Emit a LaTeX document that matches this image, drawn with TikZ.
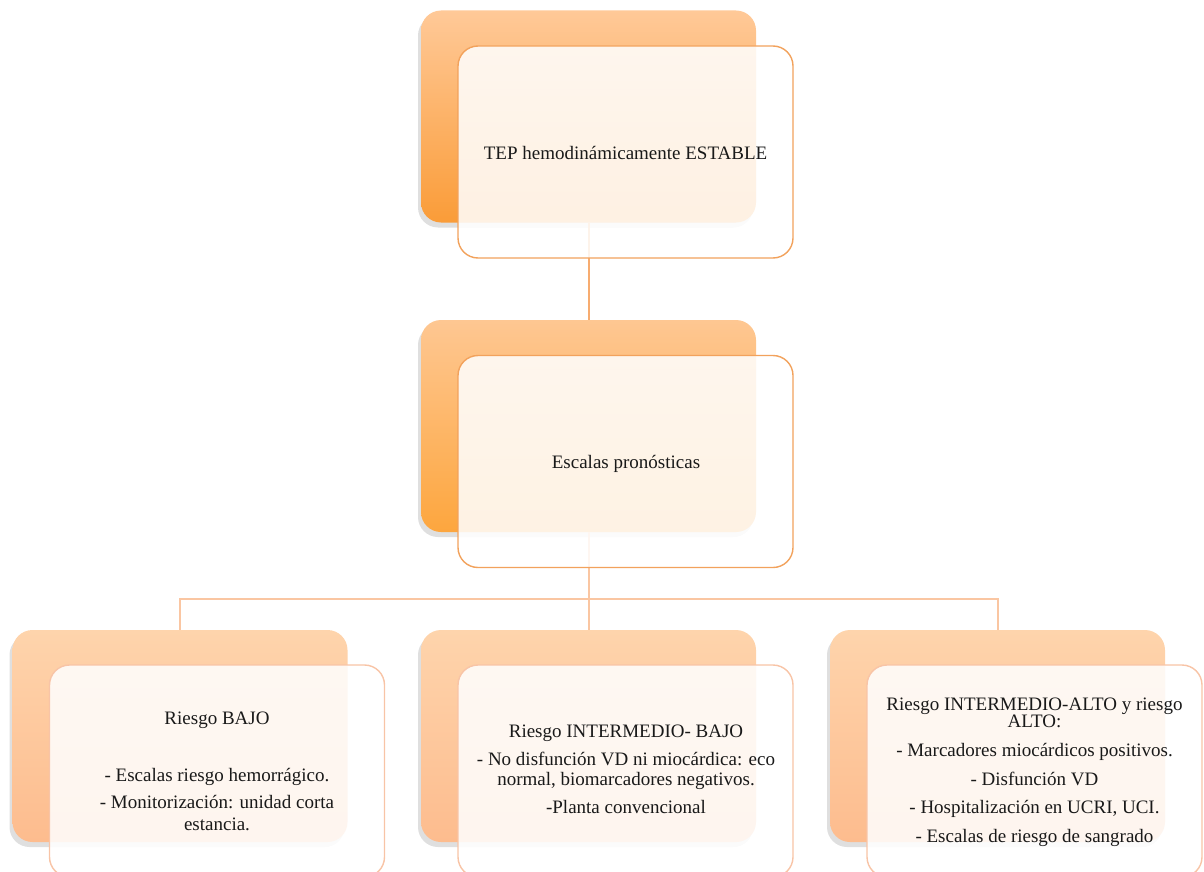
\documentclass[tikz,border=0pt]{standalone}
\usepackage{fontspec}
\setmainfont{Liberation Serif}
\usetikzlibrary{shadows}
\definecolor{connA}{RGB}{247,172,112}
\definecolor{connB}{RGB}{250,198,162}
\definecolor{frameA}{RGB}{242,162,92}
\definecolor{frameB}{RGB}{248,196,166}
\definecolor{topA}{RGB}{255,201,152}
\definecolor{botA}{RGB}{250,156,56}
\definecolor{topB}{RGB}{254,199,146}
\definecolor{botB}{RGB}{253,166,62}
\definecolor{topC}{RGB}{254,212,172}
\definecolor{botC}{RGB}{253,188,142}
\definecolor{txt}{RGB}{25,25,25}
\begin{document}
\begin{tikzpicture}[x=1pt,y=-1pt,
  backbox/.style={rounded corners=20pt, minimum width=335pt, minimum height=212pt,
    inner sep=0pt, outer sep=0pt,
    drop shadow={shadow xshift=-3pt, shadow yshift=-5pt, opacity=0.18, fill=black!70}},
  frontbox/.style={rounded corners=20pt, minimum width=335pt, minimum height=212pt,
    inner sep=0pt, outer sep=0pt, fill=white, fill opacity=0.86, draw opacity=1, line width=1.4pt},
  label/.style={align=center, anchor=base, inner sep=0pt, text=txt,
    font=\fontsize{19}{17}\selectfont},
  connA/.style={draw=connA, line width=2pt},
  connB/.style={draw=connB, line width=2pt}]
\useasboundingbox (0,0) rectangle (1204,872);
\clip (0,0) rectangle (1204,872);

% back boxes
\node[backbox, top color=topA, bottom color=botA] (b1) at (588.5,116.5) {};
\node[backbox, top color=topB, bottom color=botB] (b2) at (588.5,426) {};
\node[backbox, top color=topC, bottom color=botC] (b3) at (180,736) {};
\node[backbox, top color=topC, bottom color=botC] (b4) at (588.5,736) {};
\node[backbox, top color=topC, bottom color=botC] (b5) at (997.5,736) {};

% connectors
\draw[connA] (b1.south) -- (b2.north);
\draw[connB] (b2.south) -- ++(0,67) -| (b3.north);
\draw[connB] (b2.south) -- (b4.north);
\draw[connB] (b2.south) -- ++(0,67) -| (b5.north);

% front boxes
\node[frontbox, draw=frameA] (f1) at (625.5,152) {};
\node[frontbox, draw=frameA] (f2) at (625.5,461.5) {};
\node[frontbox, draw=frameB] (f3) at (217,771) {};
\node[frontbox, draw=frameB] (f4) at (625.5,771) {};
\node[frontbox, draw=frameB] (f5) at (1034.5,771) {};

% texts (anchor base = baseline of the last line)
\node[label] (t1) at (625.5,159) {TEP hemodinámicamente ESTABLE};
\node[label] (t2) at (626,468) {Escalas pronósticas};
\node[label] (t3) at (217,830) {Riesgo BAJO\\[39pt]
  - Escalas riesgo hemorrágico.\\[8pt]
  - Monitorización: unidad corta\\[5pt]
  estancia.};
\node[label] (t4) at (626,813) {Riesgo INTERMEDIO- BAJO\\[10pt]
  - No disfunción VD ni miocárdica: eco\\[3pt]
  normal, biomarcadores negativos.\\[9pt]
  -Planta convencional};
\node[label] (t5) at (1034.5,842) {Riesgo INTERMEDIO-ALTO y riesgo\\
  ALTO:\\[12pt]
  - Marcadores miocárdicos positivos.\\[11pt]
  - Disfunción VD\\[11pt]
  - Hospitalización en UCRI, UCI.\\[10pt]
  - Escalas de riesgo de sangrado};
\end{tikzpicture}
\end{document}
